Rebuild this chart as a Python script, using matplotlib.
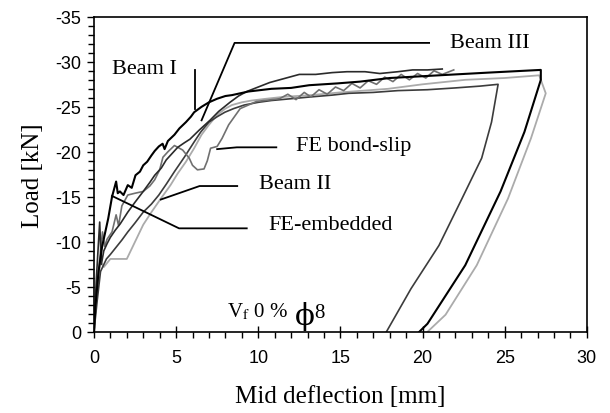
import matplotlib
matplotlib.use("Agg")
import matplotlib.pyplot as plt
from matplotlib.ticker import MultipleLocator

plt.rcParams['axes.unicode_minus'] = False
plt.rcParams['mathtext.fontset'] = 'stix'

# Beam I (black) - loading then unloading
beam1_x = [0, 0.1, 0.28, 0.5, 0.87, 1.1, 1.35, 1.45, 1.58, 1.8, 2.06, 2.3, 2.53, 2.8,
           3.0, 3.24, 3.5, 3.7, 3.95, 4.18, 4.3, 4.5, 4.9, 5.2, 5.6, 5.9, 6.1, 6.55,
           7.0, 7.5, 8.0, 8.4, 9.4, 10.8, 12.0, 13.1, 14.8, 16.2, 18.0, 21.0, 24.0,
           27.2, 27.2, 26.2, 24.75, 22.6, 20.3, 19.8]
beam1_y = [0, -3, -6.7, -9.5, -12.6, -15.0, -16.7, -15.4, -15.6, -15.2, -16.3, -16.0,
           -17.4, -17.8, -18.5, -18.9, -19.6, -20.1, -20.6, -20.9, -20.3, -21.2, -21.9,
           -22.6, -23.3, -23.9, -24.4, -25.0, -25.5, -25.9, -26.2, -26.3, -26.7, -27.0,
           -27.1, -27.4, -27.6, -27.8, -28.2, -28.5, -28.8, -29.1, -28.0, -22.2, -15.6,
           -7.4, -0.9, 0]

# top dark curve (no unloading)
top_x = [0, 0.15, 0.35, 0.45, 0.6, 0.8, 1.0, 1.3, 1.6, 2.06, 2.5, 3.0, 3.4, 3.7, 4.1,
         4.4, 4.8, 5.1, 5.5, 5.84, 6.4, 7.06, 7.6, 8.28, 8.8, 9.3, 10.0, 10.7, 11.3,
         11.9, 12.5, 13.5, 14.5, 15.4, 16.5, 17.4, 18.5, 19.4, 20.3, 21.2]
top_y = [0, -6, -12.2, -7.5, -9.0, -9.8, -10.5, -11.3, -12.0, -13.3, -14.4, -15.6,
         -16.6, -17.4, -18.2, -19.1, -19.9, -20.5, -21.0, -21.4, -22.4, -23.5, -24.5,
         -25.5, -26.2, -26.7, -27.2, -27.7, -28.0, -28.3, -28.6, -28.6, -28.8, -28.9,
         -28.9, -28.7, -28.9, -29.1, -29.1, -29.2]

# medium grey zig-zag curve
zig_x = [0, 0.2, 0.4, 0.52, 0.65, 0.8, 1.1, 1.35, 1.5, 1.7, 2.06, 2.5, 3.0, 3.4, 3.7,
         4.0, 4.2, 4.5, 4.9, 5.4, 5.8, 6.0, 6.3, 6.7, 6.9, 7.1, 7.5, 7.8, 8.2, 8.9,
         9.9, 11.3, 11.8, 12.3, 12.8, 13.2, 13.7, 14.2, 14.7, 15.2, 15.7, 16.2, 16.7,
         17.2, 17.7, 18.2, 18.7, 19.2, 19.7, 20.2, 20.7, 21.2, 21.9]
zig_y = [0, -5, -9, -11.1, -9.5, -10.3, -11.1, -13.0, -11.8, -14.0, -15.2, -15.4,
         -15.6, -16.2, -16.9, -18.0, -19.4, -20.0, -20.7, -20.2, -19.3, -18.5, -18.0,
         -18.1, -19.0, -20.4, -20.6, -21.5, -23.0, -24.8, -25.6, -25.9, -26.4, -25.8,
         -26.6, -26.1, -26.9, -26.4, -27.2, -26.8, -27.6, -27.1, -27.9, -27.5, -28.3,
         -27.8, -28.6, -28.0, -28.7, -28.2, -29.0, -28.6, -29.1]

# dark grey lower curve with unloading
low_x = [0, 0.2, 0.4, 0.76, 1.0, 1.35, 1.7, 2.06, 2.5, 3.0, 3.5, 3.95, 4.4, 4.9, 5.5,
         6.1, 6.5, 7.0, 7.5, 7.97, 8.5, 9.15, 10.0, 10.8, 12.0, 13.2, 14.5, 15.5,
         17.0, 18.5, 20.3, 22.0, 23.5, 24.6, 24.2, 23.6, 22.4, 21.0, 19.3, 17.8]
low_y = [0, -3.5, -6.7, -8.1, -8.6, -9.4, -10.2, -11.1, -12.1, -13.3, -14.2, -15.2,
         -16.4, -17.8, -19.4, -21.1, -22.2, -23.3, -23.9, -24.4, -24.8, -25.2, -25.5,
         -25.7, -25.9, -26.1, -26.3, -26.5, -26.6, -26.8, -26.9, -27.1, -27.3, -27.5,
         -23.3, -19.3, -14.8, -9.6, -4.8, 0]

# light grey curve with unloading
light_x = [0, 0.17, 0.4, 0.6, 1.0, 2.0, 2.5, 3.0, 3.5, 4.07, 4.66, 5.1, 5.6, 6.1, 6.55,
           7.0, 7.5, 8.0, 8.4, 9.0, 9.6, 10.5, 11.5, 13.2, 15.0, 17.9, 20.0, 22.6,
           25.0, 27.1, 27.5, 26.6, 25.2, 23.3, 21.4, 20.3]
light_y = [0, -4.8, -7.8, -7.2, -8.1, -8.1, -10.0, -11.9, -13.3, -14.8, -16.3, -17.6,
           -18.9, -20.4, -21.9, -23.0, -24.1, -24.8, -25.2, -25.5, -25.7, -25.9, -26.1,
           -26.3, -26.6, -27.0, -27.5, -28.0, -28.2, -28.5, -26.5, -21.5, -14.8, -7.4,
           -1.9, 0]

x_ticks = [0, 5, 10, 15, 20, 25, 30]
y_ticks = [0, -5, -10, -15, -20, -25, -30, -35]

fig = plt.figure(figsize=(6.1, 4.14), dpi=100)
ax = fig.add_axes([0.154, 0.196, 0.808, 0.761])

ax.plot(light_x, light_y, color='#ababab', lw=1.3)
ax.plot(low_x, low_y, color='#3c3c3c', lw=1.2)
ax.plot(zig_x, zig_y, color='#707070', lw=1.2)
ax.plot(top_x, top_y, color='#2a2a2a', lw=1.2)
ax.plot(beam1_x, beam1_y, color='black', lw=1.5)

ax.set_xlim(0, 30)
ax.set_ylim(0, -35)
ax.set_xticks(x_ticks)
ax.set_yticks(y_ticks)
ax.xaxis.set_minor_locator(MultipleLocator(1))
ax.yaxis.set_minor_locator(MultipleLocator(1))
ax.tick_params(axis='x', which='major', direction='inout', length=8, width=1, pad=8)
ax.tick_params(axis='x', which='minor', direction='out', length=4, width=1)
ax.tick_params(axis='y', which='major', direction='out', length=5, width=1, pad=4)
ax.tick_params(axis='y', which='minor', direction='out', length=4, width=1)
for lab in ax.get_xticklabels() + ax.get_yticklabels():
    lab.set_fontfamily('Liberation Sans')
    lab.set_fontsize(13)
for sp in ax.spines.values():
    sp.set_linewidth(1.2)

serif = 'Liberation Serif'
ax.set_xlabel('Mid deflection [mm]', family=serif, fontsize=18, labelpad=14)
ax.set_ylabel('Load [kN]', family=serif, fontsize=18, labelpad=8)

# leader lines and labels
lk = dict(color='black', lw=1.3)
ax.plot([6.55, 8.56, 20.4], [-23.5, -32.1, -32.1], **lk)
ax.text(21.7, -32.2, 'Beam III', family=serif, fontsize=16, va='center')
ax.plot([6.15, 6.15], [-24.8, -29.1], **lk)
ax.text(1.1, -29.3, 'Beam I', family=serif, fontsize=16, va='center')
ax.plot([7.5, 8.7, 11.1], [-20.3, -20.5, -20.5], **lk)
ax.text(12.3, -20.7, 'FE bond-slip', family=serif, fontsize=16, va='center')
ax.plot([4.07, 6.43, 8.72], [-14.7, -16.2, -16.2], **lk)
ax.text(10.05, -16.5, 'Beam II', family=serif, fontsize=16, va='center')
ax.plot([1.1, 5.18, 9.3], [-15.1, -11.5, -11.5], **lk)
ax.text(10.6, -11.9, 'FE-embedded', family=serif, fontsize=16, va='center')

ax.text(8.1, -1.7, r'V$_\mathrm{f}$ 0 %', family=serif, fontsize=15, va='baseline')
ax.text(12.85, -1.8, '\u03d5', family='DejaVu Serif', fontsize=21,
        ha='center', va='center')
ax.text(13.4, -1.7, '8', family=serif, fontsize=15, va='baseline')

fig.savefig('out.png', dpi=100)
